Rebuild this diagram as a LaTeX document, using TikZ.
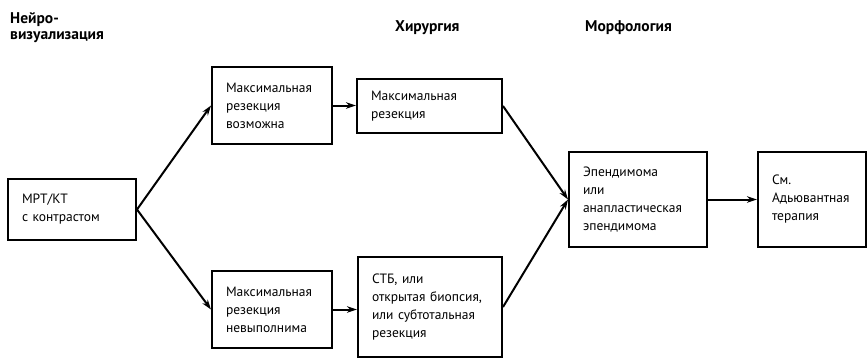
\documentclass[tikz,border=0pt]{standalone}
\usepackage{fontspec}
\setmainfont{PT Sans}
\usetikzlibrary{arrows.meta}

\tikzset{
  box/.style={draw=black, line width=2pt, align=left, inner xsep=14pt, inner ysep=4pt, font=\fontsize{13.5}{18}\selectfont},
  head/.style={anchor=base west, align=left, inner sep=0pt, font=\fontsize{15.5}{16}\selectfont\bfseries},
  arr/.style={line width=2pt, -{Stealth[length=10pt,width=6.5pt]}}
}

\begin{document}
\begin{tikzpicture}[x=1pt,y=-1pt]
\useasboundingbox (0,0) rectangle (868,359);

% column headings
\node[head] (hneuro) at (10,39) {Нейро-\\визуализация};
\node[head] (hsurg) at (395,31) {Хирургия};
\node[head] (hmorph) at (585,31) {Морфология};

% boxes
\node[box, text width=100pt, minimum height=61pt] (mrt) at (72,209.5) {МРТ/КТ\\с контрастом};
\node[box, text width=92pt, minimum height=77pt] (possible) at (272,105.5) {Максимальная\\резекция\\возможна};
\node[box, text width=92pt, minimum height=77pt] (impossible) at (272,309.5) {Максимальная\\резекция\\невыполнима};
\node[box, text width=117pt, minimum height=54pt] (maxres) at (429.5,106) {Максимальная\\резекция};
\node[box, text width=116pt, minimum height=100pt] (stb) at (430,307) {СТБ, или\\открытая биопсия,\\или субтотальная\\резекция};
\node[box, text width=110pt, minimum height=95pt] (epend) at (638,199.5) {Эпендимома\\или\\анапластическая\\эпендимома};
\node[box, text width=80pt, minimum height=95pt] (see) at (812,199.5) {См.\\Адьювантная\\терапия};

% arrows
\draw[arr] (mrt.east) -- (possible.west);
\draw[arr] (mrt.east) -- (impossible.west);
\draw[arr] (possible.east) -- (possible.east -| maxres.west);
\draw[arr] (impossible.east) -- (impossible.east -| stb.west);
\draw[arr] (maxres.east) -- (epend.west);
\draw[arr] (stb.east) -- (epend.west);
\draw[arr] (epend.east) -- (see.west);
\end{tikzpicture}
\end{document}
